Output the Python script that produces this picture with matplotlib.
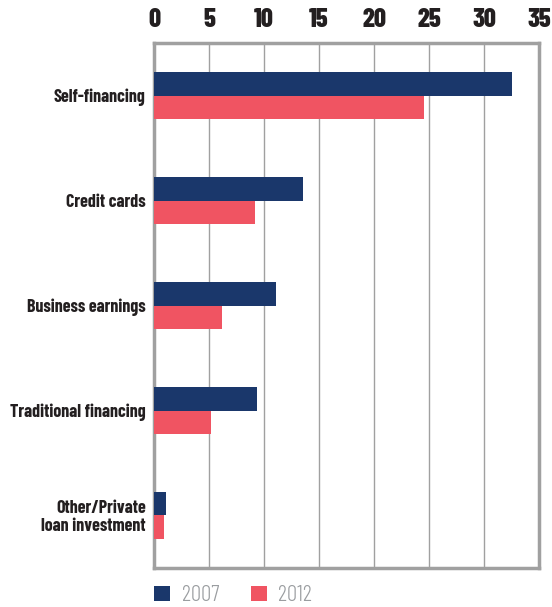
import matplotlib
matplotlib.use("Agg")
import matplotlib.pyplot as plt
import numpy as np

categories = ["Self-financing", "Credit cards", "Business earnings",
              "Traditional financing", "Other/Private\nloan investment"]
years = ["2007", "2012"]
values_2007 = [32.5, 13.5, 11.1, 9.4, 1.1]
values_2012 = [24.5, 9.2, 6.2, 5.2, 0.9]
x_ticks = [0, 5, 10, 15, 20, 25, 30, 35]

navy = "#1a376b"
coral = "#f05462"
grid_gray = "#a0a0a0"
text_dark = "#231f20"
fonts = ["Barlow Condensed", "DejaVu Sans"]

fig = plt.figure(figsize=(5.52, 6.07), dpi=100)
ax = fig.add_axes([0.279, 0.0643, 0.6975, 0.8647])

y = np.arange(len(categories))
h = 0.225
ax.barh(y - h / 2, values_2007, height=h, color=navy, label=years[0], zorder=3)
ax.barh(y + h / 2, values_2012, height=h, color=coral, label=years[1], zorder=3)

ax.set_xlim(0, 35)
ax.set_ylim(len(categories) - 0.5, -0.5)
ax.set_xticks(x_ticks)
ax.xaxis.tick_top()
ax.set_xticklabels([str(t) for t in x_ticks], fontfamily=fonts,
                   fontweight=800, fontsize=19, color=text_dark)
ax.set_yticks(y)
ax.set_yticklabels(categories, fontfamily=fonts, fontweight=700,
                   fontsize=13, color=text_dark, linespacing=1.05)
ax.tick_params(axis="x", length=0, pad=8)
ax.tick_params(axis="y", length=0, pad=6)
ax.grid(axis="x", color=grid_gray, linewidth=1, zorder=0)

for s in ax.spines.values():
    s.set_color(grid_gray)
    s.set_linewidth(2.5)

leg = ax.legend(loc="center left", bbox_to_anchor=(0.0, -0.053), ncol=2,
                frameon=False, borderpad=0, borderaxespad=0,
                handlelength=0.7, handleheight=0.62,
                columnspacing=1.4, handletextpad=0.5,
                prop={"family": fonts, "size": 16.5, "weight": 300})
for t in leg.get_texts():
    t.set_color("#9a9da0")

fig.savefig("out.png", dpi=100)
